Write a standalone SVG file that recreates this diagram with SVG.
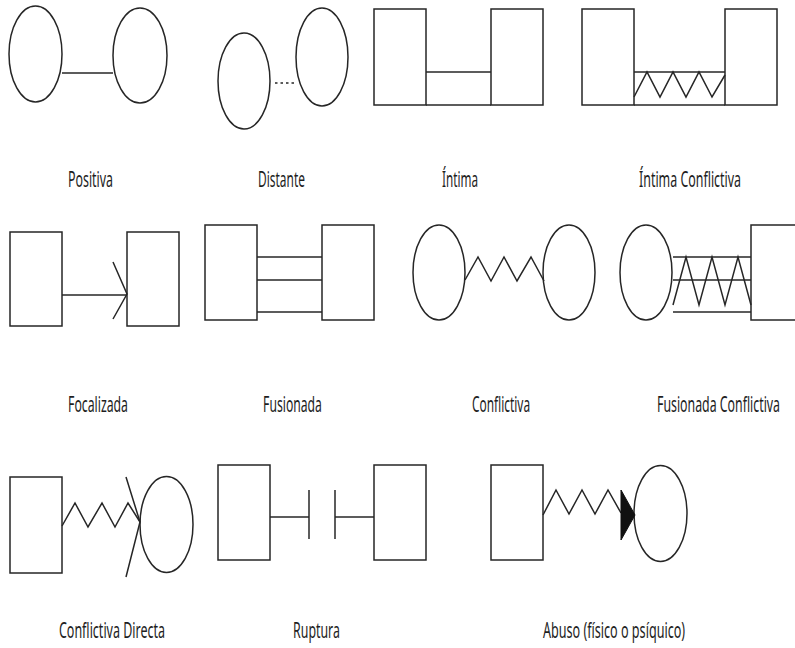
<svg xmlns="http://www.w3.org/2000/svg" width="795" height="648" viewBox="0 0 795 648">
<style>
.s{fill:#fff;stroke:#262626;stroke-width:1.5}
.c{fill:none;stroke:#262626;stroke-width:1.5;stroke-linejoin:miter}
.t{font-family:"Noto Sans","Open Sans",sans-serif;font-size:21px;fill:#1e1e1e;text-anchor:middle}
</style>
<rect width="795" height="648" fill="#fff"/>
<g id="nodes">
<g id="positiva-a"><ellipse class="s" cx="35.5" cy="54" rx="26.5" ry="48"/></g>
<g id="positiva-b"><ellipse class="s" cx="140" cy="55.5" rx="27" ry="47.5"/></g>
<g id="distante-a"><ellipse class="s" cx="244" cy="81" rx="26" ry="48"/></g>
<g id="distante-b"><ellipse class="s" cx="322" cy="57" rx="26" ry="49"/></g>
<g id="intima-a"><rect class="s" x="374" y="9" width="52" height="96"/></g>
<g id="intima-b"><rect class="s" x="491" y="9" width="52" height="96"/></g>
<g id="intimaconf-a"><rect class="s" x="582" y="9" width="52" height="96"/></g>
<g id="intimaconf-b"><rect class="s" x="725" y="9" width="52" height="96"/></g>
<g id="focal-a"><rect class="s" x="10" y="232" width="52" height="94"/></g>
<g id="focal-b"><rect class="s" x="127" y="232" width="52" height="94"/></g>
<g id="fusion-a"><rect class="s" x="205" y="225" width="52" height="95"/></g>
<g id="fusion-b"><rect class="s" x="322" y="225" width="52" height="95"/></g>
<g id="conf-a"><ellipse class="s" cx="439" cy="272.5" rx="26" ry="47.5"/></g>
<g id="conf-b"><ellipse class="s" cx="569" cy="272.5" rx="26" ry="47.5"/></g>
<g id="fusconf-a"><ellipse class="s" cx="646" cy="272.5" rx="26" ry="47.5"/></g>
<g id="fusconf-b"><rect class="s" x="751" y="225" width="54" height="95"/></g>
<g id="confdir-a"><rect class="s" x="10" y="477" width="52" height="96"/></g>
<g id="confdir-b"><ellipse class="s" cx="166.5" cy="524.5" rx="26.5" ry="48"/></g>
<g id="ruptura-a"><rect class="s" x="218" y="465" width="52" height="95"/></g>
<g id="ruptura-b"><rect class="s" x="374" y="465" width="52" height="95"/></g>
<g id="abuso-a"><rect class="s" x="491" y="465" width="52" height="95"/></g>
<g id="abuso-b"><ellipse class="s" cx="660.5" cy="513.5" rx="26.5" ry="48"/></g>
</g>
<g id="connectors">
<line class="c" x1="62" y1="73" x2="113" y2="73"/>
<line class="c" x1="275" y1="83" x2="297" y2="83" stroke-dasharray="2.5,3"/>
<line class="c" x1="426" y1="72" x2="491" y2="72"/>
<line class="c" x1="426" y1="105" x2="491" y2="105"/>
<line class="c" x1="634" y1="72" x2="725" y2="72"/>
<line class="c" x1="634" y1="105" x2="725" y2="105"/>
<polyline class="c" points="634,97 647,72 660,97 673,72 686,97 699,72 712,97 725,75"/>
<line class="c" x1="62" y1="295" x2="127" y2="295"/>
<polyline class="c" points="113,262 127,294 113,319"/>
<line class="c" x1="257" y1="257" x2="322" y2="257"/>
<line class="c" x1="257" y1="280" x2="322" y2="280"/>
<line class="c" x1="257" y1="312" x2="322" y2="312"/>
<polyline class="c" points="465,280 478,257 491,281 504,257 517,281 531,257 544,281"/>
<line class="c" x1="673" y1="257" x2="751" y2="257"/>
<line class="c" x1="673" y1="280" x2="751" y2="280"/>
<line class="c" x1="673" y1="312" x2="751" y2="312"/>
<polyline class="c" points="673,305 686,257 699,305 712,257 725,305 738,257 751,305"/>
<polyline class="c" points="62,526 75,503 88,527 102,503 115,527 128,503 140,522"/>
<polyline class="c" points="126,477 140,522 126,577"/>
<line class="c" x1="270" y1="517" x2="309" y2="517"/>
<line class="c" x1="309" y1="490" x2="309" y2="539"/>
<line class="c" x1="335" y1="490" x2="335" y2="539"/>
<line class="c" x1="335" y1="517" x2="374" y2="517"/>
<polyline class="c" points="543,515 556,490 569,514 582,490 595,514 608,490 621,513"/>
<polygon points="621,490 635,515 621,540" fill="#111" stroke="#111" stroke-width="1"/>
</g>
<g id="labels">
<text class="t" transform="translate(90.5,187) scale(0.6,1)" textLength="75" lengthAdjust="spacingAndGlyphs">Positiva</text>
<text class="t" transform="translate(281.5,187) scale(0.6,1)" textLength="78" lengthAdjust="spacingAndGlyphs">Distante</text>
<text class="t" transform="translate(460,187) scale(0.6,1)" textLength="60" lengthAdjust="spacingAndGlyphs">Íntima</text>
<text class="t" transform="translate(690,187) scale(0.6,1)" textLength="170" lengthAdjust="spacingAndGlyphs">Íntima Conflictiva</text>
<text class="t" transform="translate(98,412) scale(0.6,1)" textLength="100" lengthAdjust="spacingAndGlyphs">Focalizada</text>
<text class="t" transform="translate(292.5,412) scale(0.6,1)" textLength="98" lengthAdjust="spacingAndGlyphs">Fusionada</text>
<text class="t" transform="translate(501,412) scale(0.6,1)" textLength="97" lengthAdjust="spacingAndGlyphs">Conflictiva</text>
<text class="t" transform="translate(718.5,412) scale(0.6,1)" textLength="205" lengthAdjust="spacingAndGlyphs">Fusionada Conflictiva</text>
<text class="t" transform="translate(112,638) scale(0.6,1)" textLength="177" lengthAdjust="spacingAndGlyphs">Conflictiva Directa</text>
<text class="t" transform="translate(316.5,638) scale(0.6,1)" textLength="78" lengthAdjust="spacingAndGlyphs">Ruptura</text>
<text class="t" transform="translate(614,638) scale(0.6,1)" textLength="237" lengthAdjust="spacingAndGlyphs">Abuso (físico o psíquico)</text>
</g>
</svg>
